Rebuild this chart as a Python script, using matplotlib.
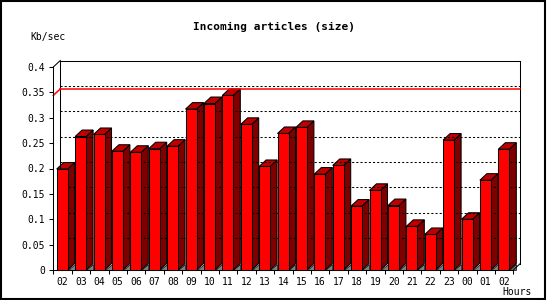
import numpy as np
import matplotlib
matplotlib.use('Agg')
import matplotlib.pyplot as plt
from matplotlib.patches import Polygon, Rectangle

# data
hours = ['02', '03', '04', '05', '06', '07', '08', '09', '10', '11', '12', '13',
         '14', '15', '16', '17', '18', '19', '20', '21', '22', '23', '00', '01', '02']
kb_per_sec = [0.199, 0.263, 0.267, 0.234, 0.232, 0.239, 0.244, 0.317, 0.328, 0.344,
              0.287, 0.204, 0.269, 0.281, 0.189, 0.206, 0.126, 0.157, 0.127, 0.086,
              0.070, 0.256, 0.100, 0.177, 0.238]
y_ticks = [0, 0.05, 0.1, 0.15, 0.2, 0.25, 0.3, 0.35, 0.4]
y_tick_labels = ['0', '0.05', '0.1', '0.15', '0.2', '0.25', '0.3', '0.35', '0.4']

W, H = 550, 300
mono = 'DejaVu Sans Mono'

fig = plt.figure(figsize=(W / 100, H / 100), dpi=100)
left, right, bottom, top = 53.3, 513.3, 270, 67
ax = fig.add_axes([left / W, 1 - bottom / H, (right - left) / W, (bottom - top) / H])
n = len(hours)
ymax = 0.4
ax.set_xlim(0, n)
ax.set_ylim(0, ymax)
ax.patch.set_alpha(0)

# size of one pixel in data units -> depth of the 3d effect
px_x = n / (right - left)
px_y = ymax / (bottom - top)
dx, dy = 7 * px_x, 6.5 * px_y

lw = 0.75
# back wall
ax.plot([dx, n + dx], [ymax + dy, ymax + dy], color='black', lw=lw, clip_on=False)
ax.plot([dx, dx], [dy, ymax + dy], color='black', lw=lw, clip_on=False)
ax.plot([n + dx, n + dx], [dy, ymax + dy], color='black', lw=lw, clip_on=False)
ax.plot([0, dx], [ymax, ymax + dy], color='black', lw=lw, clip_on=False)
ax.plot([n, n + dx], [0, dy], color='black', lw=lw, clip_on=False)
for t in y_ticks[1:-1]:
    ax.plot([dx, n + dx], [t + dy, t + dy], color='black', lw=lw,
            linestyle=(0, (2, 2)), clip_on=False)

# max line
peak = max(kb_per_sec)
ax.plot([dx, n + dx], [peak + dy, peak + dy], color='red', lw=1.1, clip_on=False)
ax.plot([0, dx], [peak, peak + dy], color='red', lw=1.1, clip_on=False)

# bars
w = 11 * px_x
for i, v in enumerate(kb_per_sec):
    x0 = i + 3.4 * px_x
    xr = x0 + w
    ax.add_patch(Polygon([(xr, 0), (xr + dx, 0), (xr + dx, dy)], closed=True,
                         facecolor='#808080', edgecolor='black', lw=0.5, clip_on=False))
    ax.add_patch(Polygon([(xr, 0), (xr, v), (xr + dx, v + dy), (xr + dx, dy)], closed=True,
                         facecolor='#800000', edgecolor='black', lw=lw, clip_on=False))
    ax.add_patch(Polygon([(x0, v), (xr, v), (xr + dx, v + dy), (x0 + dx, v + dy)], closed=True,
                         facecolor='#c00000', edgecolor='black', lw=lw, clip_on=False))
    ax.bar(x0, v, width=w, align='edge', color='#ff0000', edgecolor='black', lw=lw,
           clip_on=False, zorder=3)

# axes, ticks
for s in ['top', 'right']:
    ax.spines[s].set_visible(False)
for s in ['left', 'bottom']:
    ax.spines[s].set_linewidth(lw)
ax.set_xticks(range(n + 1), labels=[])
ax.set_xticks(np.arange(n) + 0.5, labels=hours, minor=True)
ax.tick_params(axis='x', which='major', length=3, width=lw, direction='out')
ax.tick_params(axis='x', which='minor', length=0, pad=5, labelsize=7)
ax.set_yticks(y_ticks, labels=y_tick_labels)
ax.tick_params(axis='y', length=3, width=lw, pad=3, labelsize=7)
for lab in ax.get_xticklabels(minor=True) + ax.get_yticklabels():
    lab.set_fontfamily(mono)

fig.text(273.7 / W, 1 - 27 / H, 'Incoming articles (size)', ha='center', va='center',
         fontfamily=mono, fontweight='bold', fontsize=8)
fig.text(30 / W, 1 - 37 / H, 'Kb/sec', ha='left', va='center', fontfamily=mono, fontsize=7)
fig.text(532 / W, 1 - 292 / H, 'Hours', ha='right', va='center', fontfamily=mono, fontsize=7)

# outer frame
fig.patches.append(Rectangle((1 / W, 1 - 298.5 / H), 544 / W, 297.5 / H, transform=fig.transFigure,
                             fill=False, edgecolor='black', lw=1.5))

fig.savefig('out.png', dpi=100)
